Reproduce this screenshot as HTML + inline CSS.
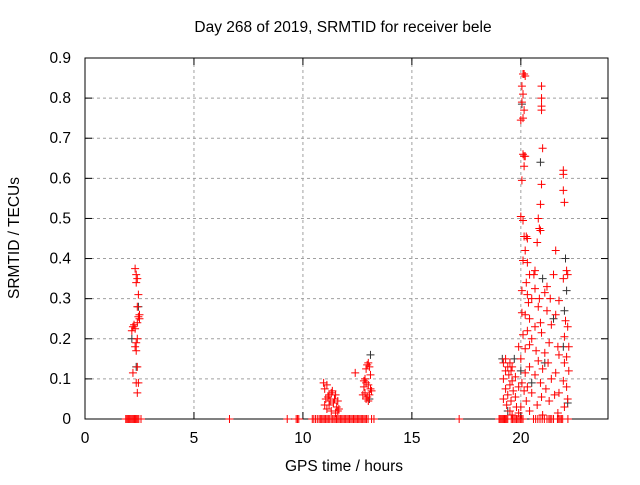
<!DOCTYPE html>
<html><head><meta charset="utf-8"><style>
body{margin:0;background:#fff;}
svg text{font-family:"Liberation Sans",sans-serif;font-size:15.5px;fill:#000;}
</style></head><body>
<svg id="chart" width="640" height="480" xmlns="http://www.w3.org/2000/svg">
<text x="343" y="32" text-anchor="middle">Day 268 of 2019, SRMTID for receiver bele</text>
<text x="344" y="471" text-anchor="middle">GPS time / hours</text>
<text transform="translate(19,238) rotate(-90)" text-anchor="middle">SRMTID / TECUs</text>
<g id="grid"></g>
<g id="axes"></g>
<g id="zeros"></g>
<g id="black"></g>
<g id="red"></g>
</svg>
<script>
const xTicks=[0,5,10,15,20];
const yTicks=[0,0.1,0.2,0.3,0.4,0.5,0.6,0.7,0.8,0.9];
const yTickLabels=["0","0.1","0.2","0.3","0.4","0.5","0.6","0.7","0.8","0.9"];
const zeroTimes=[1.87,1.92,1.97,2.02,2.07,2.12,2.17,2.22,2.27,2.32,2.37,2.42,2.47,2.57,6.63,9.28,9.69,9.75,9.81,10.43,10.5,10.58,10.66,10.74,10.8,10.86,10.92,10.98,11.04,11.1,11.16,11.21,11.29,11.35,11.42,11.48,11.54,11.6,11.66,11.72,11.78,11.84,11.9,11.96,12.02,12.08,12.14,12.2,12.26,12.32,12.38,12.44,12.5,12.56,12.62,12.68,12.74,12.8,12.86,12.92,12.99,13.15,13.26,17.17,19.0,19.05,19.1,19.15,19.2,19.25,19.3,19.35,19.4,19.56,19.62,19.68,19.74,19.8,19.86,19.92,19.98,20.04,20.1,20.58,20.68,20.78,20.88,20.98,21.08,21.2,21.29,21.35,21.42,21.5,21.68,21.74,21.8,21.86,21.92,22.16];
const redT=[2.3,2.35,2.4,2.35,2.45,2.4,2.5,2.45,2.5,2.4,2.2,2.25,2.3,2.15,2.4,2.35,2.3,2.35,2.4,2.2,2.45,2.35,2.4,
10.95,11.0,11.1,11.2,11.05,11.15,11.3,11.0,11.25,11.35,11.4,11.5,11.55,11.45,11.6,11.65,11.2,11.3,11.1,11.5,11.6,
12.4,12.75,12.8,12.85,12.9,12.95,13.0,13.05,12.8,12.9,13.0,13.1,13.15,12.85,12.95,13.05,13.1,12.9,13.0,
20.1,20.15,20.2,20.05,20.1,20.05,20.15,20.1,20.0,20.95,20.95,20.95,20.95,21.0,20.95,20.9,20.1,20.15,20.2,20.15,20.05,21.95,21.95,21.95,22.0,20.8,20.0,20.1,20.85,20.9,20.15,20.25,20.3,20.75,20.2,21.6,20.1,20.3,20.65,20.6,20.4,22.1,22.15,21.95,20.25,20.65,21.2,21.1,21.5,20.05,20.3,20.5,20.85,21.35,21.75,20.35,20.8,21.2,21.6,20.05,20.2,20.4,20.9,22.05,20.65,21.4,22.15,20.3,20.1,20.95,22.0,20.5,21.3,20.4,19.9,21.7,22.2,20.2,20.7,21.1,21.75,22.1,19.3,20.0,20.8,19.2,19.5,21.25,22.0,19.4,19.6,20.4,21.0,19.3,19.55,20.2,21.6,22.2,19.45,19.75,20.65,21.4,19.2,19.6,20.05,20.9,21.95,19.5,19.9,20.3,21.15,22.1,19.3,19.65,20.15,20.5,21.75,19.4,19.75,20.95,21.55,19.2,19.55,20.25,21.3,22.15,19.35,19.8,20.0,20.75,22.0,19.5,19.9,20.4,21.7,21.0,19.6];
const redV=[0.375,0.36,0.35,0.34,0.31,0.28,0.26,0.255,0.25,0.24,0.23,0.235,0.225,0.22,0.2,0.19,0.18,0.17,0.13,0.115,0.09,0.09,0.065,
0.09,0.075,0.085,0.06,0.05,0.055,0.065,0.035,0.045,0.07,0.04,0.06,0.03,0.05,0.045,0.025,0.035,0.02,0.025,0.015,0.02,
0.115,0.06,0.08,0.1,0.125,0.135,0.14,0.13,0.095,0.09,0.085,0.075,0.07,0.065,0.055,0.06,0.11,0.05,0.045,
0.86,0.86,0.855,0.83,0.81,0.79,0.77,0.75,0.745,0.83,0.8,0.78,0.77,0.675,0.585,0.535,0.66,0.655,0.655,0.63,0.595,0.62,0.61,0.57,0.54,0.5,0.505,0.495,0.475,0.47,0.455,0.455,0.45,0.44,0.42,0.42,0.395,0.39,0.37,0.36,0.36,0.37,0.36,0.35,0.34,0.325,0.33,0.315,0.36,0.32,0.31,0.3,0.3,0.3,0.295,0.29,0.28,0.27,0.26,0.265,0.26,0.25,0.24,0.245,0.23,0.235,0.23,0.22,0.21,0.215,0.205,0.2,0.19,0.185,0.18,0.18,0.18,0.175,0.17,0.165,0.16,0.155,0.15,0.15,0.145,0.14,0.14,0.14,0.14,0.13,0.13,0.13,0.125,0.12,0.12,0.115,0.115,0.12,0.11,0.105,0.11,0.1,0.1,0.095,0.09,0.09,0.095,0.085,0.08,0.08,0.075,0.08,0.075,0.07,0.07,0.065,0.065,0.06,0.055,0.055,0.06,0.05,0.045,0.045,0.045,0.05,0.035,0.03,0.03,0.035,0.03,0.02,0.015,0.02,0.015,0.01,0.01];
const blackT=[2.35,2.45,2.15,13.1,13.05,20.05,20.9,22.05,22.1,19.15,19.7,20.5,21.95,22.15,19.4,21.5,22.0,21.0,20.0,21.1];
const blackV=[0.13,0.28,0.2,0.16,0.05,0.785,0.64,0.4,0.32,0.15,0.15,0.09,0.18,0.04,0.02,0.25,0.27,0.35,0.12,0.14];

const L=85,R=608,T=58,B=419;
const xS=t=>L+(t/24)*(R-L);
const yS=v=>B-(v/0.9)*(B-T);
const NS="http://www.w3.org/2000/svg";
function mk(tag,attrs,parent){const e=document.createElementNS(NS,tag);for(const k in attrs)e.setAttribute(k,attrs[k]);parent.appendChild(e);return e;}
const grid=document.getElementById('grid'),axes=document.getElementById('axes');
xTicks.forEach(t=>{const x=xS(t);
  if(t>0){const g=mk('line',{x1:x,x2:x,y1:T,y2:B,stroke:'#a0a0a0','stroke-dasharray':'3,3','stroke-width':1},grid);
  
  }
  mk('line',{x1:x,x2:x,y1:B,y2:B-7,stroke:'#000'},axes);
  mk('line',{x1:x,x2:x,y1:T,y2:T+7,stroke:'#000'},axes);
  const tx=mk('text',{x:x,y:443,'text-anchor':'middle'},axes);tx.textContent=String(t);
  
  
});
yTicks.forEach((v,i)=>{const y=yS(v);
  if(v>0&&v<0.9){const g=mk('line',{x1:L,x2:R,y1:y,y2:y,stroke:'#a0a0a0','stroke-dasharray':'3,3','stroke-width':1},grid);
  
  }
  mk('line',{x1:L,x2:L+7,y1:y,y2:y,stroke:'#000'},axes);
  mk('line',{x1:R,x2:R-7,y1:y,y2:y,stroke:'#000'},axes);
  const tx=mk('text',{x:L-14,y:y+5,'text-anchor':'end'},axes);tx.textContent=yTickLabels[i];
  
  
});
mk('rect',{x:L,y:T,width:R-L,height:B-T,fill:'none',stroke:'#000','stroke-width':1},axes);
function plus(g,t,v,col,name){const x=xS(t),y=yS(v);
  const p=mk('path',{d:`M${x-4},${y}H${x+4}M${x},${y-4}V${y+4}`,stroke:col,'stroke-width':1,fill:'none'},g);
  
  }
const gz=document.getElementById('zeros');zeroTimes.forEach(t=>plus(gz,t,0,'#ff0000','zero-point'));
const gb=document.getElementById('black');blackT.forEach((t,i)=>plus(gb,t,blackV[i],'#333','black-point'));
const gr=document.getElementById('red');redT.forEach((t,i)=>plus(gr,t,redV[i],'#ff0000','red-point'));
</script>
</body></html>
